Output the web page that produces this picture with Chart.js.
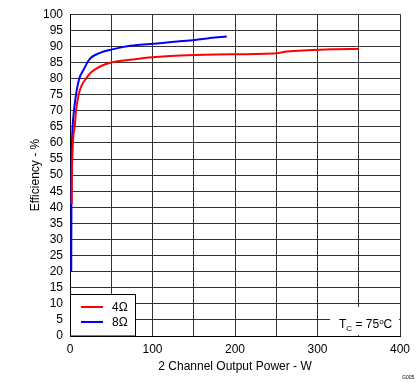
<!DOCTYPE html>
<html lang="en">
<head>
    <meta charset="UTF-8">
    <title>Efficiency vs Output Power</title>
    <script src="https://cdn.jsdelivr.net/npm/chart.js"></script>
    <style>
        body { margin: 0; background: #fff; }
    </style>
</head>
<body>
    <canvas id="effChart" width="419" height="382"></canvas>

    <script>
        // 4 ohm curve
        const power4 = [2, 2.3, 2.7, 4, 5.7, 7.3, 10.5, 14, 19.4, 25, 31.5, 37.6, 50, 76, 100, 133, 176, 247, 263, 287, 318, 350];
        const eff4   = [41, 50, 55, 62, 65, 70, 75, 77.8, 80, 81.8, 83, 83.9, 85, 85.9, 86.6, 87.2, 87.5, 87.8, 88.4, 88.8, 89.1, 89.2];

        // 8 ohm curve
        const power8 = [1.5, 1.8, 2.2, 3.2, 4.8, 7.3, 11.3, 17, 21, 25, 35.5, 50, 73, 85, 109, 130, 151, 170, 190];
        const eff8   = [20, 45, 57, 65, 70, 75, 80, 83, 85, 86.4, 87.9, 89, 90.2, 90.5, 91, 91.5, 92, 92.6, 93.1];

        const seriesLabels = ['4\u03A9', '8\u03A9'];
        const seriesColors = ['#ff0000', '#0000ff'];
        const xTicks = [0, 100, 200, 300, 400];

        const font = 'Liberation Sans, Arial, sans-serif';

        function toPoints(xs, ys) {
            return xs.map((x, i) => ({ x: x, y: ys[i] }));
        }

        // legend box in the lower left corner and the Tc note in the lower right
        const boxesPlugin = {
            id: 'boxes',
            afterDatasetsDraw(chart) {
                const ctx = chart.ctx;
                const area = chart.chartArea;
                ctx.save();

                // legend
                const lx = area.left, ly = area.bottom - 42, lw = 65, lh = 42;
                ctx.fillStyle = '#fff';
                ctx.fillRect(lx, ly, lw, lh);
                ctx.strokeStyle = '#000';
                ctx.lineWidth = 1;
                ctx.strokeRect(lx + 0.5, ly + 0.5, lw, lh - 0.5);
                ctx.font = '12px ' + font;
                ctx.textBaseline = 'middle';
                chart.data.datasets.forEach((ds, i) => {
                    const y = ly + 13 + i * 15;
                    ctx.strokeStyle = ds.borderColor;
                    ctx.lineWidth = 2;
                    ctx.beginPath();
                    ctx.moveTo(lx + 11, y);
                    ctx.lineTo(lx + 33, y);
                    ctx.stroke();
                    ctx.fillStyle = '#000';
                    ctx.fillText(ds.label, lx + 42, y + 1);
                });

                // Tc note
                ctx.fillStyle = '#fff';
                ctx.fillRect(330, area.bottom - 29, area.right - 330 - 1, 28);
                ctx.fillStyle = '#000';
                ctx.textBaseline = 'alphabetic';
                let tx = 339, ty = area.bottom - 8;
                ctx.font = '12px ' + font;
                ctx.fillText('T', tx, ty);
                tx += ctx.measureText('T').width;
                ctx.font = '8px ' + font;
                ctx.fillText('C', tx, ty + 3);
                tx += ctx.measureText('C').width;
                ctx.font = '12px ' + font;
                ctx.fillText(' = 75', tx, ty);
                tx += ctx.measureText(' = 75').width;
                ctx.font = '8px ' + font;
                ctx.fillText('o', tx, ty - 4);
                tx += ctx.measureText('o').width;
                ctx.font = '12px ' + font;
                ctx.fillText('C', tx, ty);

                // figure id
                ctx.font = '5px ' + font;
                ctx.fillText('G005', 402, 379);
                ctx.restore();
            }
        };

        new Chart(document.getElementById('effChart'), {
            type: 'line',
            data: {
                datasets: [
                    {
                        label: seriesLabels[0],
                        data: toPoints(power4, eff4),
                        borderColor: seriesColors[0],
                        borderWidth: 2,
                        pointRadius: 0,
                        cubicInterpolationMode: 'monotone',
                        fill: false
                    },
                    {
                        label: seriesLabels[1],
                        data: toPoints(power8, eff8),
                        borderColor: seriesColors[1],
                        borderWidth: 2,
                        pointRadius: 0,
                        cubicInterpolationMode: 'monotone',
                        fill: false
                    }
                ]
            },
            options: {
                responsive: false,
                animation: false,
                devicePixelRatio: 1,
                layout: { padding: { top: 7, right: 19, left: 0, bottom: 0 } },
                plugins: {
                    legend: { display: false },
                    tooltip: { enabled: false }
                },
                scales: {
                    x: {
                        type: 'linear',
                        min: 0,
                        max: 400,
                        afterFit(scale) { scale.height = 46; },
                        grid: { color: '#333', lineWidth: 1, drawTicks: false },
                        border: { color: '#000', width: 1 },
                        ticks: {
                            stepSize: 50,
                            autoSkip: false,
                            maxRotation: 0,
                            padding: 6,
                            color: '#000',
                            font: { family: font, size: 12 },
                            callback: v => xTicks.includes(v) ? String(v) : ''
                        },
                        title: {
                            display: true,
                            text: '2 Channel Output Power - W',
                            color: '#000',
                            font: { family: font, size: 12 },
                            padding: { top: 0, bottom: 8 }
                        }
                    },
                    y: {
                        min: 0,
                        max: 100,
                        afterFit(scale) { scale.width = 70; },
                        grid: { color: '#333', lineWidth: 1, drawTicks: false },
                        border: { color: '#000', width: 1 },
                        ticks: {
                            stepSize: 5,
                            autoSkip: false,
                            padding: 7,
                            color: '#000',
                            font: { family: font, size: 12 }
                        },
                        title: {
                            display: true,
                            text: 'Efficiency - %',
                            color: '#000',
                            font: { family: font, size: 12 },
                            padding: { top: 28, bottom: 0 }
                        }
                    }
                }
            },
            plugins: [boxesPlugin]
        });
    </script>
</body>
</html>
